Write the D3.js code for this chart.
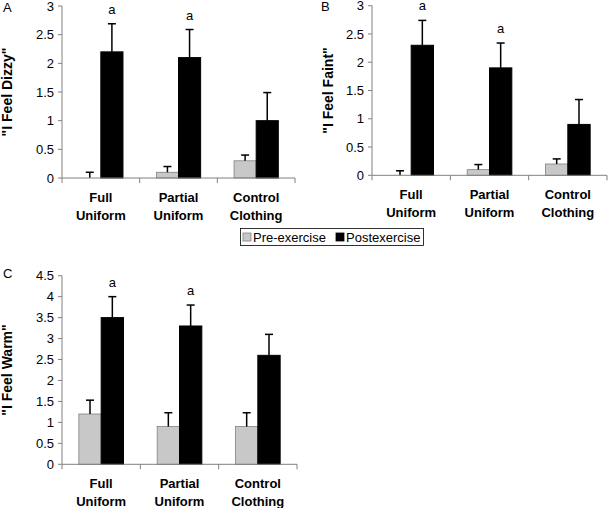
<!DOCTYPE html>
<html><head><meta charset="utf-8">
<script src="https://cdn.jsdelivr.net/npm/d3@7"></script>
<style>
body{margin:0;background:#fff;}
svg{display:block;font-family:"Liberation Sans",Arial,sans-serif;}
</style></head>
<body>
<svg id="c" width="608" height="508"></svg>
<script>
const categories = ["Full Uniform", "Partial Uniform", "Control Clothing"];
const seriesNames = ["Pre-exercise", "Postexercise"];

const dizzyPre = [0, 0.1, 0.3];
const dizzyPreErr = [0.1, 0.1, 0.1];
const dizzyPost = [2.2, 2.1, 1.0];
const dizzyPostErr = [0.49, 0.49, 0.49];
const dizzySig = ["a", "a", ""];

const faintPre = [0, 0.1, 0.2];
const faintPreErr = [0.08, 0.09, 0.09];
const faintPost = [2.3, 1.9, 0.9];
const faintPostErr = [0.44, 0.44, 0.44];
const faintSig = ["a", "a", ""];

const warmPre = [1.2, 0.9, 0.9];
const warmPreErr = [0.33, 0.33, 0.33];
const warmPost = [3.5, 3.3, 2.6];
const warmPostErr = [0.5, 0.5, 0.5];
const warmSig = ["a", "a", ""];

const dizzyTicks = [0, 0.5, 1, 1.5, 2, 2.5, 3];
const faintTicks = [0, 0.5, 1, 1.5, 2, 2.5, 3];
const warmTicks = [0, 0.5, 1, 1.5, 2, 2.5, 3, 3.5, 4, 4.5];

const preColor = "#c8c8c8", postColor = "#000000";
const svg = d3.select("#c");

function panel(o){
  const g = svg.append("g");
  const x = d3.scaleBand().domain(categories).range([o.x0, o.x1]).padding(0);
  const y = d3.scaleLinear().domain([0, o.max]).range([o.y0, o.y1]);
  const bw = x.bandwidth()*0.285;
  // y axis
  g.append("line").attr("x1",o.x0).attr("x2",o.x0).attr("y1",y(0)).attr("y2",y(o.max))
    .attr("stroke","#808080").attr("stroke-width",1);
  o.ticks.forEach(t=>{
    g.append("line").attr("x1",o.x0-4).attr("x2",o.x0).attr("y1",y(t)).attr("y2",y(t))
      .attr("stroke","#808080");
    g.append("text").attr("x",o.x0-8).attr("y",y(t)).attr("dy","0.35em")
      .attr("text-anchor","end").attr("font-size",13).attr("fill","#000").text(t);
  });
  // bars
  categories.forEach((c,i)=>{
    const cx = x(c)+x.bandwidth()/2;
    const pre = o.pre[i], post = o.post[i];
    g.append("rect").attr("x",cx-bw).attr("y",y(pre)).attr("width",bw)
      .attr("height",y(0)-y(pre)).attr("fill",preColor).attr("stroke","#808080").attr("stroke-width",0.8);
    g.append("rect").attr("x",cx).attr("y",y(post)).attr("width",bw)
      .attr("height",y(0)-y(post)).attr("fill",postColor).attr("stroke","#000");
    [[cx-bw/2, pre, o.preErr[i]],[cx+bw/2, post, o.postErr[i]]].forEach(([ex,v,e])=>{
      g.append("line").attr("x1",ex).attr("x2",ex).attr("y1",y(v)).attr("y2",y(v+e))
        .attr("stroke","#000").attr("stroke-width",1.5);
      g.append("line").attr("x1",ex-4).attr("x2",ex+4).attr("y1",y(v+e)).attr("y2",y(v+e))
        .attr("stroke","#000").attr("stroke-width",1.5);
    });
    if (o.sig[i]) {
      g.append("text").attr("x",cx+bw/2).attr("y",y(post+o.postErr[i])-10)
        .attr("text-anchor","middle").attr("font-size",13).text(o.sig[i]);
    }
    const words = c.split(" ");
    words.forEach((w,k)=>{
      g.append("text").attr("x",cx).attr("y",y(0)+24+k*18).attr("text-anchor","middle")
        .attr("font-size",13).attr("font-weight","bold").text(w);
    });
  });
  // x axis
  g.append("line").attr("x1",o.x0).attr("x2",o.x1).attr("y1",y(0)).attr("y2",y(0))
    .attr("stroke","#808080");
  categories.forEach((c,i)=>{
    const bx = x(c)+x.bandwidth();
    g.append("line").attr("x1",bx).attr("x2",bx).attr("y1",y(0)).attr("y2",y(0)+5).attr("stroke","#808080");
  });
  g.append("line").attr("x1",o.x0).attr("x2",o.x0).attr("y1",y(0)).attr("y2",y(0)+5).attr("stroke","#808080");
  // title
  const my = (y(0)+y(o.max))/2;
  g.append("text").attr("transform",`translate(${o.tx},${my}) rotate(-90)`)
    .attr("text-anchor","middle").attr("font-size",14).attr("font-weight","bold").text(o.title);
  g.append("text").attr("x",o.lx).attr("y",o.ly).attr("font-size",13).text(o.letter);
}

panel({x0:62,x1:295,y0:178,y1:6,max:3,ticks:dizzyTicks,pre:dizzyPre,preErr:dizzyPreErr,
  post:dizzyPost,postErr:dizzyPostErr,sig:dizzySig,title:'"I Feel Dizzy"',tx:12,lx:3,ly:12,letter:"A"});
panel({x0:372,x1:607,y0:175.3,y1:5.7,max:3,ticks:faintTicks,pre:faintPre,preErr:faintPreErr,
  post:faintPost,postErr:faintPostErr,sig:faintSig,title:'"I Feel Faint"',tx:333,lx:321,ly:11,letter:"B"});
panel({x0:62,x1:297,y0:464.3,y1:275.7,max:4.5,ticks:warmTicks,pre:warmPre,preErr:warmPreErr,
  post:warmPost,postErr:warmPostErr,sig:warmSig,title:'"I Feel Warm"',tx:12,lx:3,ly:278,letter:"C"});

// legend
const lg = svg.append("g");
lg.append("rect").attr("x",240.5).attr("y",228.5).attr("width",183).attr("height",17)
  .attr("fill","#fff").attr("stroke","#000").attr("stroke-width",0.8);
const items = [{name:seriesNames[0],color:preColor,sx:243,tx:253},{name:seriesNames[1],color:postColor,sx:336,tx:346}];
items.forEach(it=>{
  lg.append("rect").attr("x",it.sx).attr("y",233).attr("width",8).attr("height",8)
    .attr("fill",it.color).attr("stroke", it.color===preColor?"#808080":"#000").attr("stroke-width",0.8);
  lg.append("text").attr("x",it.tx).attr("y",237).attr("dy","0.35em").attr("font-size",13).text(it.name);
});
</script>
</body></html>
